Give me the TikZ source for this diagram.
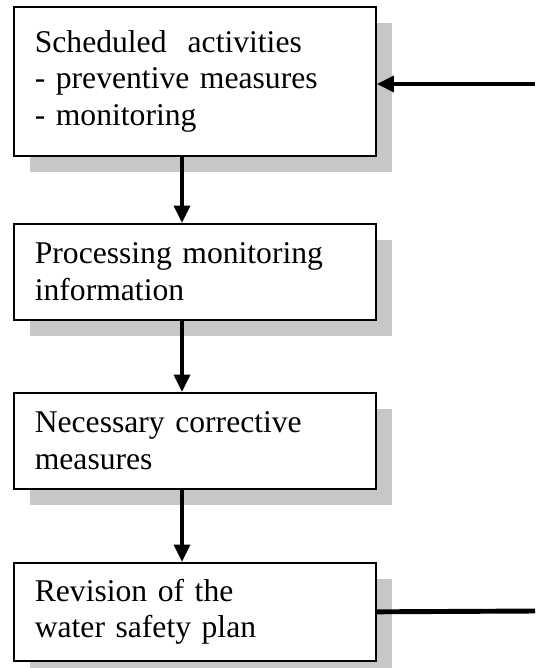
\documentclass[tikz,border=0pt]{standalone}
\usepackage{fontspec}
\setmainfont{Liberation Serif}
\usetikzlibrary{arrows.meta,shadows}

\tikzset{
  stepbox/.style={draw, line width=1.4pt, fill=white, anchor=north west,
    text width=9.6cm, inner xsep=0.63cm, minimum height=#1, align=left,
    font=\fontsize{27}{31}\selectfont,
    drop shadow={shadow xshift=0.48cm, shadow yshift=-0.48cm, fill=black!22, opacity=1}},
  flow/.style={line width=4.2pt, -{Triangle[length=0.52cm,width=0.47cm]}}
}

\begin{document}
\begin{tikzpicture}
  \useasboundingbox (0,0) rectangle (16.05,-20.04);

  \node [stepbox=4.47cm] (sched) at (0.39,-0.18)
    { Scheduled~ activities\\- preventive measures\\- monitoring };
  \node [stepbox=2.88cm] (proc) at (0.39,-6.69)
    { Processing monitoring\\information };
  \node [stepbox=2.88cm] (corr) at (0.39,-11.76)
    { Necessary corrective\\measures };
  \node [stepbox=2.94cm] (rev) at (0.39,-16.86)
    { Revision of the\\water safety plan };

  \coordinate (fbin) at (16.05,-2.52);
  \coordinate (fbout) at (16.05,-18.33);

  \draw [flow] ([xshift=5.07cm]sched.south west) -- ([xshift=5.07cm]proc.north west);
  \draw [flow] ([xshift=5.07cm]proc.south west) -- ([xshift=5.07cm]corr.north west);
  \draw [flow] ([xshift=5.07cm]corr.south west) -- ([xshift=5.07cm]rev.north west);

  \draw [flow] (fbin) -- (fbin -| sched.east);
  \draw [line width=4.2pt] (rev.east) -- (fbout);
\end{tikzpicture}
\end{document}
